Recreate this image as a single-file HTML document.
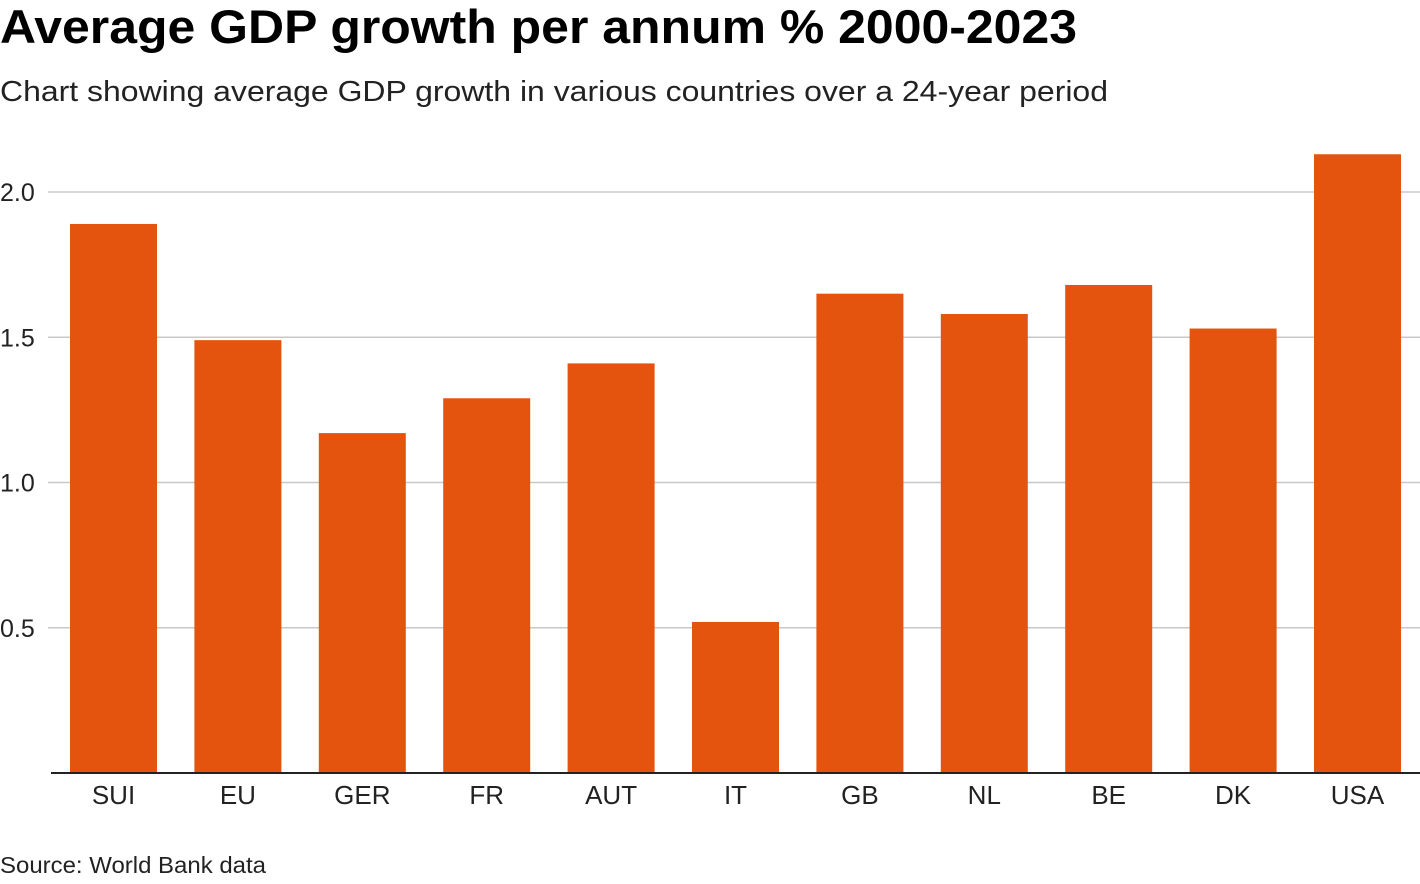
<!DOCTYPE html>
<html><head><meta charset="utf-8"><style>
body{margin:0;background:#fff;width:1420px;height:884px;overflow:hidden;font-family:"Liberation Sans",sans-serif;}
svg{display:block}
</style></head><body>
<svg width="1420" height="884">
<text x="0" y="43" font-size="47" font-weight="bold" fill="#000" textLength="1077" lengthAdjust="spacingAndGlyphs">Average GDP growth per annum % 2000-2023</text>
<text x="0" y="101" font-size="29" fill="#222" textLength="1108" lengthAdjust="spacingAndGlyphs">Chart showing average GDP growth in various countries over a 24-year period</text>
<g id="grid"></g><g id="bars"></g><g id="xlabels"></g>
<line x1="51" x2="1420" y1="773" y2="773" stroke="#222" stroke-width="2"/>
<text x="0" y="873" font-size="23" fill="#222" textLength="266" lengthAdjust="spacingAndGlyphs">Source: World Bank data</text>
</svg>
<script>
const categories=["SUI","EU","GER","FR","AUT","IT","GB","NL","BE","DK","USA"];
const values=[1.89,1.49,1.17,1.29,1.41,0.52,1.65,1.58,1.68,1.53,2.13];
const ticks=[0.5,1.0,1.5,2.0];
const tickLabels=["0.5","1.0","1.5","2.0"];
const NS="http://www.w3.org/2000/svg";
const y=v=>773-v*290.5;
const x0=51.3,step=124.4,bw=87;
const grid=document.getElementById('grid'),bars=document.getElementById('bars'),xl=document.getElementById('xlabels');
ticks.forEach((t,i)=>{
 const l=document.createElementNS(NS,'line');
 l.setAttribute('x1',48);l.setAttribute('x2',1420);l.setAttribute('y1',y(t));l.setAttribute('y2',y(t));
 l.setAttribute('stroke','#c8c8c8');l.setAttribute('stroke-width','1.5');
 
 
 grid.appendChild(l);
 const tx=document.createElementNS(NS,'text');
 tx.setAttribute('x',0);tx.setAttribute('y',y(t)+9);tx.setAttribute('font-size','25');tx.setAttribute('fill','#222');
 tx.textContent=tickLabels[i];
 
 
 grid.appendChild(tx);
});
categories.forEach((c,i)=>{
 const cx=x0+step*(i+0.5);
 const r=document.createElementNS(NS,'rect');
 r.setAttribute('x',cx-bw/2);r.setAttribute('width',bw);r.setAttribute('y',y(values[i]));r.setAttribute('height',773-y(values[i]));
 r.setAttribute('fill','#e4540f');
 
 
 bars.appendChild(r);
 const t=document.createElementNS(NS,'text');
 t.setAttribute('x',cx);t.setAttribute('y',804);t.setAttribute('font-size','26');t.setAttribute('fill','#222');t.setAttribute('text-anchor','middle');
 t.textContent=c;
 
 
 xl.appendChild(t);
});
</script>
</body></html>
